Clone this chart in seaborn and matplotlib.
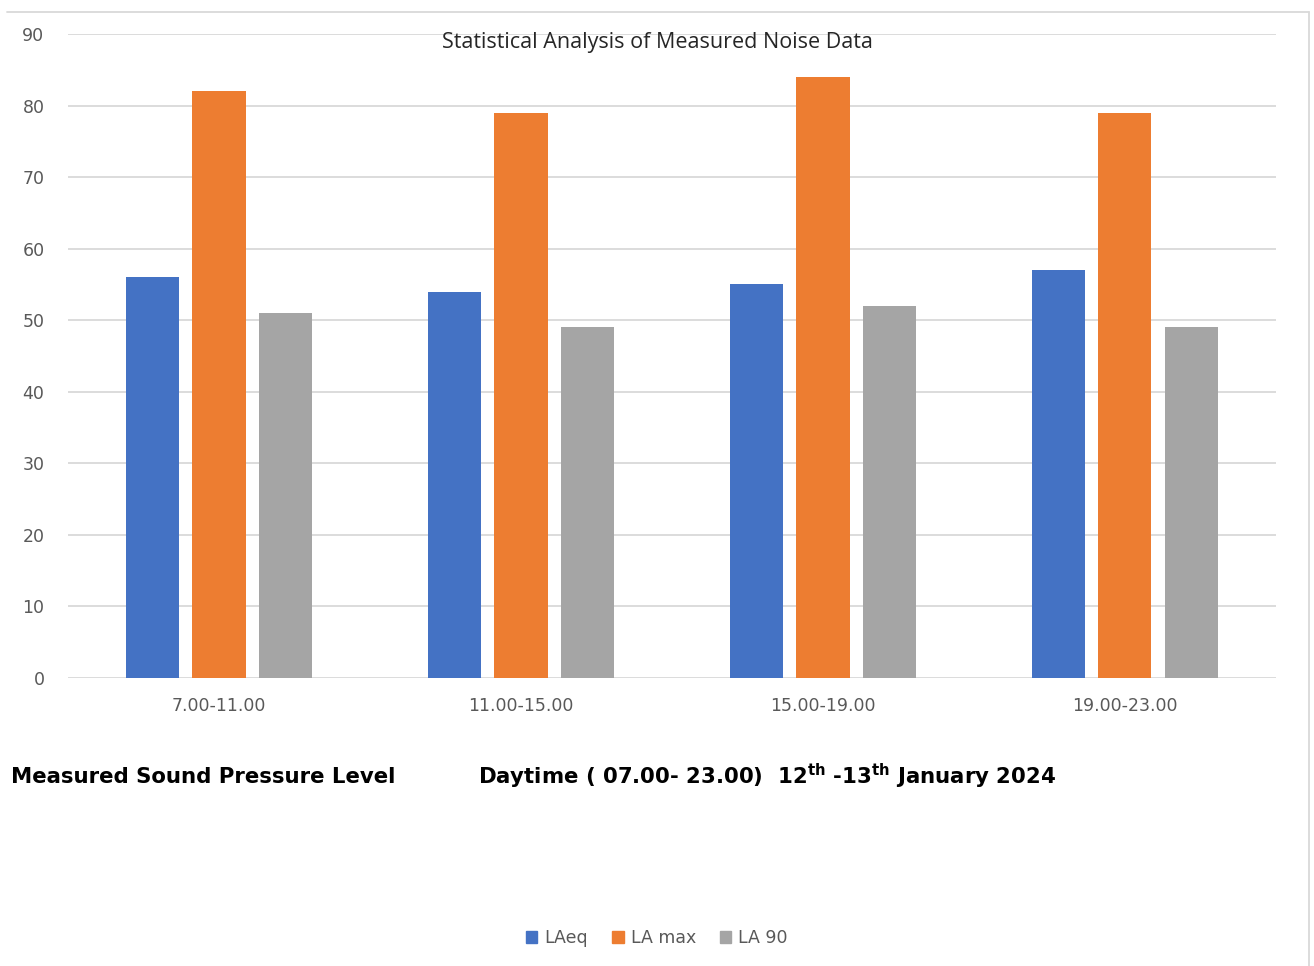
import pandas as pd
import seaborn as sns
import matplotlib.pyplot as plt
from matplotlib.lines import Line2D

# data
periods = ["7.00-11.00", "11.00-15.00", "15.00-19.00", "19.00-23.00"]
laeq = [56, 54, 55, 57]
la_max = [82, 79, 84, 79]
la_90 = [51, 49, 52, 49]
series_names = ["LAeq", "LA max", "LA 90"]
colors = ["#4472C4", "#ED7D31", "#A5A5A5"]

df = pd.DataFrame({
    "period": periods * 3,
    "value": laeq + la_max + la_90,
    "series": [s for s in series_names for _ in periods],
})

sns.set_style("white")
plt.rcParams["font.family"] = ["DejaVu Sans"]

fig = plt.figure(figsize=(13.14, 9.66), dpi=100)
ax = fig.add_axes([0.0518, 0.2981, 0.9192, 0.6667])

sns.barplot(data=df, x="period", y="value", hue="series", order=periods,
            hue_order=series_names, palette=colors, width=0.66, gap=0.2,
            saturation=1, linewidth=0, ax=ax, legend=False, zorder=3)

ax.set_xlim(-0.5, 3.5)
ax.set_ylim(0, 90)
ax.set_yticks(range(0, 91, 10))
ax.grid(axis="y", color="#D9D9D9", linewidth=1.3, zorder=0)
ax.set_axisbelow(True)
for s in ax.spines.values():
    s.set_visible(False)
ax.tick_params(axis="both", length=0, colors="#595959", labelsize=12.5)
ax.tick_params(axis="y", pad=17)
ax.tick_params(axis="x", pad=14)
ax.set_xlabel("")
ax.set_ylabel("")

fig.text(0.5, 0.956, "Statistical Analysis of Measured Noise Data",
         ha="center", va="center", fontsize=15.5, color="#262626",
         family=["Open Sans", "DejaVu Sans"])

# outer frame (top and right edges visible in reference)
fig.add_artist(Line2D([0.005, 0.9965], [0.988, 0.988], transform=fig.transFigure,
                      color="#D9D9D9", linewidth=1.3))
fig.add_artist(Line2D([0.9965, 0.9965], [0.988, 0.0], transform=fig.transFigure,
                      color="#D9D9D9", linewidth=1.3))

fig.text(0.0084, 0.196, "Measured Sound Pressure Level", ha="left", va="center",
         fontsize=15.3, fontweight="bold", color="black")
fig.text(0.3638, 0.196,
         r"Daytime ( 07.00- 23.00)  12$^{\mathbf{th}}$ -13$^{\mathbf{th}}$ January 2024",
         ha="left", va="center", fontsize=15.3, fontweight="bold", color="black")

handles = [plt.Rectangle((0, 0), 1, 1, color=c) for c in colors]
fig.legend(handles, series_names, loc="center", bbox_to_anchor=(0.5, 0.029),
           ncol=3, frameon=False, handlelength=0.65, handleheight=0.65,
           handletextpad=0.4, columnspacing=1.4,
           prop={"size": 12.5}, labelcolor="#595959")

plt.savefig("out.png", dpi=100)
plt.close()
